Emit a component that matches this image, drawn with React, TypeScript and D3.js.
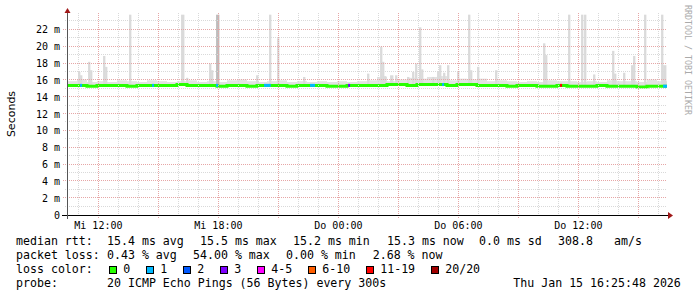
import React from 'react';
import * as d3 from 'd3';

// ---------------- DATA ----------------
const RANGE_START = '2026-01-14 10:25:48';
const RANGE_END = '2026-01-15 16:25:48';
const BIN_MINUTES = 30;

const yTickValues = [0, 2, 4, 6, 8, 10, 12, 14, 16, 18, 20, 22];
const yTickLabels = ['0', '2 m', '4 m', '6 m', '8 m', '10 m', '12 m', '14 m', '16 m', '18 m', '20 m', '22 m'];

const xLabelTimes = ['2026-01-14 12:00', '2026-01-14 18:00', '2026-01-15 00:00', '2026-01-15 06:00', '2026-01-15 12:00'];
const xLabelTexts = ['Mi 12:00', 'Mi 18:00', 'Do 00:00', 'Do 06:00', 'Do 12:00'];

// median rtt (ms) per 30-minute bin starting at RANGE_START
const medianRtt = [
  15.4, 15.4, 15.3, 15.4, 15.4, 15.4, 15.3, 15.4, 15.4, 15.4,
  15.4, 15.5, 15.4, 15.4, 15.4, 15.3, 15.4, 15.4, 15.3, 15.4,
  15.4, 15.4, 15.3, 15.4, 15.4, 15.4, 15.3, 15.3, 15.4, 15.4,
  15.4, 15.4, 15.5, 15.5, 15.4, 15.5, 15.5, 15.5, 15.4, 15.5,
  15.5, 15.4, 15.4, 15.4, 15.3, 15.4, 15.4, 15.3, 15.3, 15.4,
  15.3, 15.3, 15.3, 15.4, 15.3, 15.3, 15.3, 15.2, 15.3, 15.3,
];

// typical upper edge of the smoke (ms) per 30-minute bin
const smokeTop = [
  15.9, 16.1, 15.8, 15.9, 15.8, 16.0, 15.9, 15.8, 16.0, 15.9,
  15.8, 15.9, 16.0, 15.8, 15.9, 15.8, 16.0, 16.1, 15.9, 15.8,
  15.9, 16.0, 15.8, 15.9, 15.8, 15.9, 15.8, 15.9, 15.8, 15.9,
  16.0, 16.4, 15.9, 16.1, 16.3, 16.2, 16.4, 16.5, 16.0, 16.2,
  16.1, 16.2, 15.9, 16.0, 15.9, 15.8, 15.9, 15.8, 16.0, 15.9,
  15.9, 15.8, 15.9, 15.8, 16.0, 15.9, 15.9, 15.8, 16.1, 15.9,
];

// smoke spikes: [time, minutes, max ping (ms), pings that high]
const spikes: [string, number, number, number][] = [
  ['2026-01-14 10:59', 5, 17.0, 1],
  ['2026-01-14 11:05', 5, 16.6, 1],
  ['2026-01-14 11:29', 5, 18.2, 1],
  ['2026-01-14 11:35', 5, 17.2, 1],
  ['2026-01-14 12:14', 5, 18.9, 1],
  ['2026-01-14 12:20', 5, 17.6, 1],
  ['2026-01-14 13:32', 5, 23.8, 1],
  ['2026-01-14 16:08', 10, 23.8, 1],
  ['2026-01-14 16:23', 5, 16.3, 1],
  ['2026-01-14 17:32', 5, 18.0, 1],
  ['2026-01-14 17:38', 5, 17.2, 1],
  ['2026-01-14 17:53', 10, 23.8, 3],
  ['2026-01-14 19:53', 5, 16.6, 1],
  ['2026-01-14 20:32', 5, 23.8, 1],
  ['2026-01-14 20:56', 5, 21.0, 1],
  ['2026-01-14 22:14', 5, 16.4, 1],
  ['2026-01-15 01:26', 5, 16.8, 1],
  ['2026-01-15 02:05', 5, 20.0, 1],
  ['2026-01-15 02:11', 5, 18.2, 1],
  ['2026-01-15 02:17', 5, 16.5, 1],
  ['2026-01-15 02:35', 10, 16.6, 1],
  ['2026-01-15 02:50', 5, 16.6, 1],
  ['2026-01-15 03:26', 5, 16.4, 1],
  ['2026-01-15 03:41', 5, 17.0, 1],
  ['2026-01-15 03:50', 5, 18.0, 1],
  ['2026-01-15 04:02', 5, 22.3, 1],
  ['2026-01-15 04:08', 5, 17.3, 1],
  ['2026-01-15 04:41', 5, 16.4, 1],
  ['2026-01-15 04:56', 5, 17.0, 1],
  ['2026-01-15 05:02', 5, 17.8, 1],
  ['2026-01-15 05:14', 5, 16.9, 1],
  ['2026-01-15 05:26', 5, 17.8, 1],
  ['2026-01-15 05:56', 5, 17.0, 1],
  ['2026-01-15 06:29', 5, 23.8, 1],
  ['2026-01-15 06:35', 5, 17.2, 1],
  ['2026-01-15 06:56', 5, 17.6, 1],
  ['2026-01-15 07:50', 5, 17.2, 1],
  ['2026-01-15 10:14', 5, 20.4, 1],
  ['2026-01-15 10:20', 5, 19.0, 1],
  ['2026-01-15 11:29', 5, 23.8, 1],
  ['2026-01-15 12:08', 5, 23.8, 1],
  ['2026-01-15 12:17', 5, 23.8, 1],
  ['2026-01-15 12:44', 5, 16.7, 1],
  ['2026-01-15 13:41', 5, 19.5, 1],
  ['2026-01-15 13:47', 5, 16.8, 1],
  ['2026-01-15 14:14', 5, 16.9, 1],
  ['2026-01-15 14:38', 5, 17.8, 1],
  ['2026-01-15 14:44', 5, 18.9, 1],
  ['2026-01-15 15:17', 5, 23.8, 1],
  ['2026-01-15 16:08', 5, 23.8, 1],
  ['2026-01-15 16:14', 10, 17.8, 1],
];

// packet loss events: [time, minutes, lost pings of 20]
const lossEvents: [string, number, number][] = [
  ['2026-01-14 11:05', 5, 1],
  ['2026-01-14 14:41', 5, 1],
  ['2026-01-14 17:53', 5, 1],
  ['2026-01-14 20:17', 20, 1],
  ['2026-01-14 22:35', 15, 1],
  ['2026-01-15 00:29', 5, 3],
  ['2026-01-15 05:11', 5, 1],
  ['2026-01-15 11:05', 5, 11],
  ['2026-01-15 16:14', 12, 1],
];

const lossThresholds = [0, 1, 2, 3, 5, 10, 19, 20];
const lossLabels = ['0', '1', '2', '3', '4-5', '6-10', '11-19', '20/20'];
const lossColors = ['#26ff00', '#00b8ff', '#0059ff', '#7e00ff', '#ff00ff', '#ff5e00', '#ff0000', '#a10000'];

const legendRtt = ['median rtt:', '15.4 ms avg', '15.5 ms max', '15.2 ms min', '15.3 ms now', '0.0 ms sd', '308.8', 'am/s'];
const legendLoss = ['packet loss:', '0.43 % avg', '54.00 % max', '0.00 % min', '2.68 % now'];
const legendProbe = ['probe:', '20 ICMP Echo Pings (56 Bytes) every 300s', 'Thu Jan 15 16:25:48 2026'];
const yAxisTitle = 'Seconds';
const watermark = 'RRDTOOL / TOBI OETIKER';

// ---------------- LAYOUT ----------------
const W = 697;
const H = 297;
const PLOT_L = 67;
const PLOT_R = 667;
const PLOT_B = 215;
const PLOT_T = 13;
const MONO = '"DejaVu Sans Mono", "Liberation Mono", monospace';
const SANS = '"DejaVu Sans", "Liberation Sans", sans-serif';
const CHAR_W = 7;

const rttX = [16, 107, 200, 293, 387, 479, 558, 614];
const lossX = [16, 107, 193, 286, 372.7];
const probeX = [16, 107, 513.3];
const LINE_Y = [245, 259, 273, 287];

const parseFull = d3.timeParse('%Y-%m-%d %H:%M:%S');
const parseMin = d3.timeParse('%Y-%m-%d %H:%M');

function lossColor(n: number) {
  for (let i = 0; i < lossThresholds.length; i++) {
    if (n <= lossThresholds[i]) return lossColors[i];
  }
  return lossColors[lossColors.length - 1];
}

export default function App() {
  const start = parseFull(RANGE_START) as Date;
  const end = parseFull(RANGE_END) as Date;
  const x = d3.scaleTime().domain([start, end]).range([PLOT_L, PLOT_R]);
  const y = d3.scaleLinear().domain([0, 24]).range([PLOT_B, PLOT_T]);
  const binMs = BIN_MINUTES * 60 * 1000;
  const binStart = (i: number) => new Date(start.getTime() + i * binMs);
  const medianAt = (t: Date) => {
    const i = Math.max(0, Math.min(medianRtt.length - 1, Math.floor((t.getTime() - start.getTime()) / binMs)));
    return medianRtt[i];
  };

  const hourTicks = d3.timeHour.every(1)!.range(start, end);
  const minorH = d3.range(1, 24).filter((v) => v % 2 === 1);
  const majorH = yTickValues.filter((v) => v > 0);

  const medPts: [Date, number][] = medianRtt.map((v, i) => [binStart(i), v]);
  medPts.push([end, medianRtt[medianRtt.length - 1]]);
  const medLine = d3
    .line<[Date, number]>()
    .x((d) => x(d[0]))
    .y((d) => y(d[1]))
    .curve(d3.curveStepAfter);

  const crisp = (v: number) => Math.round(v) + 0.5;

  const boxes: { bx: number; lx: number }[] = [];
  let cur = 108.7;
  lossLabels.forEach((lab) => {
    const lx = cur + 14.5;
    boxes.push({ bx: cur, lx });
    cur = lx + lab.length * CHAR_W + 15.5;
  });

  return (
    <svg
      width={W}
      height={H}
      viewBox={`0 0 ${W} ${H}`}
      style={{ position: 'absolute', left: 0, top: 0, background: '#fff' }}
    >
      <rect x={0} y={0} width={W} height={H} fill="#ffffff" />

      {/* smoke base band */}
      <g>
        {medianRtt.map((m, i) => {
          const x0 = x(binStart(i));
          const x1 = i === medianRtt.length - 1 ? x(end) : x(binStart(i + 1));
          const top = y(smokeTop[i]);
          const bot = y(m);
          return <rect key={i} x={x0} y={top} width={x1 - x0} height={Math.max(0, bot - top)} fill="#e2e2e2" />;
        })}
      </g>

      {/* smoke spikes */}
      <g>
        {spikes.map(([t, dur, top, n], i) => {
          const t0 = parseMin(t) as Date;
          const t1 = new Date(t0.getTime() + dur * 60000);
          const x0 = x(t0);
          const w = Math.max(2.3, x(t1) - x0);
          const yt = y(top);
          const yb = y(medianAt(t0));
          return (
            <rect key={i} x={x0} y={yt} width={w} height={yb - yt} fill={n > 1 ? '#bdbdbd' : '#dadada'} />
          );
        })}
      </g>

      {/* median line */}
      <path d={medLine(medPts) || ''} fill="none" stroke={lossColors[0]} strokeWidth={3} />

      {/* loss colored segments */}
      <g>
        {lossEvents.map(([t, dur, n], i) => {
          const t0 = parseMin(t) as Date;
          const t1 = new Date(Math.min(end.getTime(), t0.getTime() + dur * 60000));
          const x0 = x(t0);
          const w = Math.max(2, x(t1) - x0);
          const yc = y(medianAt(t0));
          return <rect key={i} x={x0} y={yc - 1.5} width={w} height={3} fill={lossColor(n)} />;
        })}
      </g>

      {/* grid */}
      <g shapeRendering="crispEdges">
        {minorH.map((v) => (
          <line key={'mh' + v} x1={65} x2={PLOT_R} y1={crisp(y(v)) - 1} y2={crisp(y(v)) - 1} stroke="#d9d9d9" strokeDasharray="1,1" />
        ))}
        {hourTicks
          .filter((t) => t.getHours() % 3 !== 0)
          .map((t, i) => (
            <line key={'mv' + i} x1={crisp(x(t))} x2={crisp(x(t))} y1={PLOT_T} y2={217} stroke="#d9d9d9" strokeDasharray="1,1" />
          ))}
        {majorH.map((v) => (
          <line key={'Mh' + v} x1={63} x2={PLOT_R} y1={crisp(y(v)) - 1} y2={crisp(y(v)) - 1} stroke="#e6a6a6" strokeDasharray="1,1" />
        ))}
        {hourTicks
          .filter((t) => t.getHours() % 3 === 0)
          .map((t, i) => (
            <line key={'Mv' + i} x1={crisp(x(t))} x2={crisp(x(t))} y1={PLOT_T} y2={219} stroke="#e6a6a6" strokeDasharray="1,1" />
          ))}
      </g>

      {/* axes */}
      <g shapeRendering="crispEdges">
        <line x1={62} x2={668} y1={PLOT_B + 0.5} y2={PLOT_B + 0.5} stroke="#000" />
        <line x1={PLOT_L + 0.5} x2={PLOT_L + 0.5} y1={219} y2={12} stroke="#555" />
      </g>
      <polygon points={`668,212 673,215.5 668,219`} fill="#a01818" />
      <polygon points={`64.5,13 67.5,8 70.5,13`} fill="#a01818" />

      {/* y tick labels */}
      <g fontFamily={MONO} fontSize={10} fill="#000">
        {yTickValues.map((v, i) => (
          <text key={v} x={60} y={y(v) + 3.6} textAnchor="end">
            {yTickLabels[i]}
          </text>
        ))}
      </g>

      {/* x labels */}
      <g fontFamily={MONO} fontSize={10} fill="#000">
        {xLabelTimes.map((t, i) => (
          <text key={t} x={x(parseMin(t) as Date)} y={229} textAnchor="middle">
            {xLabelTexts[i]}
          </text>
        ))}
      </g>

      {/* y axis title */}
      <text transform={`translate(14.5,114) rotate(-90)`} textAnchor="middle" fontFamily={SANS} fontSize={11} fill="#000">
        {yAxisTitle}
      </text>

      {/* watermark */}
      <text transform={`translate(685,5) rotate(90)`} fontFamily={MONO} fontSize={8.3} fill="#aaaaaa">
        {watermark}
      </text>

      {/* legend */}
      <g fontFamily={MONO} fontSize={11.6} fill="#000" style={{ whiteSpace: 'pre' }}>
        {legendRtt.map((s, i) => (
          <text key={'r' + i} x={rttX[i]} y={LINE_Y[0]}>
            {s}
          </text>
        ))}
        {legendLoss.map((s, i) => (
          <text key={'l' + i} x={lossX[i]} y={LINE_Y[1]}>
            {s}
          </text>
        ))}
        <text x={16} y={LINE_Y[2]}>loss color:</text>
        {lossLabels.map((lab, i) => (
          <g key={'b' + i}>
            <rect x={Math.round(boxes[i].bx) + 0.5} y={266.5} width={7} height={7} fill={lossColors[i]} stroke="#000" strokeWidth={1} />
            <text x={boxes[i].lx} y={LINE_Y[2]}>
              {lab}
            </text>
          </g>
        ))}
        {legendProbe.map((s, i) => (
          <text key={'p' + i} x={probeX[i]} y={LINE_Y[3]}>
            {s}
          </text>
        ))}
      </g>
    </svg>
  );
}
